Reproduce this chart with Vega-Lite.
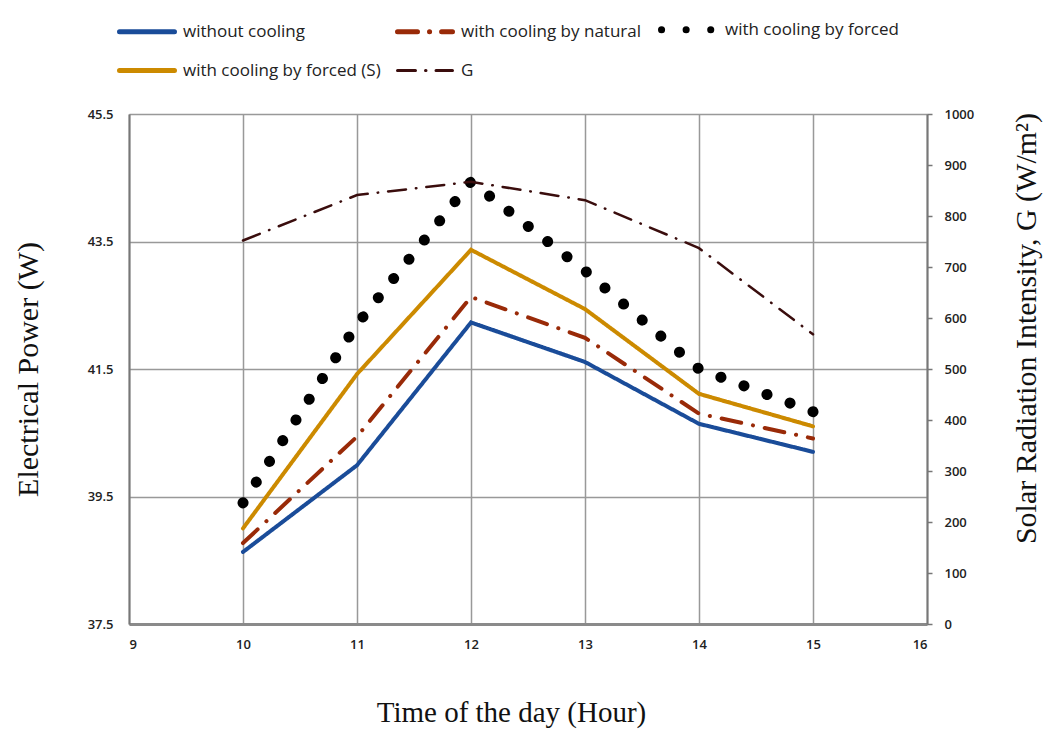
{
  "$schema": "https://vega.github.io/schema/vega-lite/v6.json",
  "width": 798,
  "height": 510,
  "autosize": {"type": "none"},
  "padding": {"left": 129, "top": 114, "right": 117, "bottom": 107},
  "background": "white",
  "config": {"view": {"stroke": null}, "font": "Open Sans"},
  "data": {
    "values": [
      {"hour": 10, "series": "without cooling", "value": 38.63},
      {"hour": 11, "series": "without cooling", "value": 39.99},
      {"hour": 12, "series": "without cooling", "value": 42.23},
      {"hour": 13, "series": "without cooling", "value": 41.61},
      {"hour": 14, "series": "without cooling", "value": 40.64},
      {"hour": 15, "series": "without cooling", "value": 40.20},
      {"hour": 10, "series": "with cooling  by natural", "value": 38.77},
      {"hour": 11, "series": "with cooling  by natural", "value": 40.44},
      {"hour": 12, "series": "with cooling  by natural", "value": 42.63},
      {"hour": 13, "series": "with cooling  by natural", "value": 41.99},
      {"hour": 14, "series": "with cooling  by natural", "value": 40.80},
      {"hour": 15, "series": "with cooling  by natural", "value": 40.41},
      {"hour": 10, "series": "with cooling  by forced", "value": 39.40},
      {"hour": 11, "series": "with cooling  by forced", "value": 42.20},
      {"hour": 12, "series": "with cooling  by forced", "value": 44.44},
      {"hour": 13, "series": "with cooling  by forced", "value": 43.04},
      {"hour": 14, "series": "with cooling  by forced", "value": 41.50},
      {"hour": 15, "series": "with cooling  by forced", "value": 40.83},
      {"hour": 10, "series": "with cooling  by forced (S)", "value": 39.00},
      {"hour": 11, "series": "with cooling  by forced (S)", "value": 41.42},
      {"hour": 12, "series": "with cooling  by forced (S)", "value": 43.37},
      {"hour": 13, "series": "with cooling  by forced (S)", "value": 42.44},
      {"hour": 14, "series": "with cooling  by forced (S)", "value": 41.11},
      {"hour": 15, "series": "with cooling  by forced (S)", "value": 40.60},
      {"hour": 10, "series": "G", "value": 752},
      {"hour": 11, "series": "G", "value": 841},
      {"hour": 12, "series": "G", "value": 867},
      {"hour": 13, "series": "G", "value": 831},
      {"hour": 14, "series": "G", "value": 737},
      {"hour": 15, "series": "G", "value": 568}
    ]
  },
  "encoding": {
    "x": {
      "field": "hour",
      "type": "quantitative",
      "scale": {"domain": [9, 16], "nice": false},
      "axis": {
        "values": [9, 10, 11, 12, 13, 14, 15, 16],
        "format": "d",
        "grid": true,
        "gridColor": "#999999",
        "gridWidth": 1.5,
        "domainColor": "#8a8a8a",
        "domainWidth": 3,
        "ticks": false,
        "labelPadding": 14,
        "labelFont": "Open Sans",
        "labelFontSize": 13,
        "labelFontWeight": 600,
        "labelColor": "#222222",
        "title": "Time of the day (Hour)",
        "titleFont": "Liberation Serif",
        "titleFontSize": 29,
        "titleFontWeight": "normal",
        "titleColor": "#111111",
        "titleX": 382,
        "titleY": 97,
        "titleBaseline": "alphabetic",
        "titleAlign": "center"
      }
    },
    "color": {
      "field": "series",
      "type": "nominal",
      "scale": {
        "domain": ["without cooling", "with cooling  by natural", "with cooling  by forced", "with cooling  by forced (S)", "G"],
        "range": ["#1a4c99", "#992a08", "#000000", "#cc8a00", "#3a0d0d"]
      },
      "legend": {
        "orient": "none",
        "legendX": 9.5,
        "legendY": -93,
        "direction": "horizontal",
        "columns": 3,
        "title": null,
        "symbolType": "stroke",
        "symbolSize": 3025,
        "symbolStrokeWidth": 5,
        "labelFont": "Open Sans",
        "labelFontSize": 17,
        "labelColor": "#222222",
        "labelOffset": 27.5,
        "columnPadding": 2,
        "rowPadding": 16,
        "labelLimit": 400,
        "encode": {
          "symbols": {
            "update": {
              "strokeCap": {"value": "round"},
              "strokeWidth": {"signal": "datum.value === 'with cooling  by forced' ? 7 : (datum.value === 'G' ? 3 : 5)"}
            }
          }
        }
      }
    },
    "strokeDash": {
      "field": "series",
      "type": "nominal",
      "scale": {
        "type": "ordinal",
        "domain": ["without cooling", "with cooling  by natural", "with cooling  by forced", "with cooling  by forced (S)", "G"],
        "range": [[1, 0], [20, 12, 0.1, 12], [0.1, 24.49], [1, 0], [18, 10, 0.5, 10]]
      }
    }
  },
  "layer": [
    {
      "encoding": {
        "y": {
          "field": "value",
          "type": "quantitative",
          "scale": {"domain": [37.5, 45.5], "nice": false, "zero": false},
          "axis": {
            "orient": "left",
            "values": [37.5, 39.5, 41.5, 43.5, 45.5],
            "format": ".1f",
            "grid": true,
            "gridColor": "#999999",
            "gridWidth": 1.5,
            "domainColor": "#777777",
            "domainWidth": 2,
            "ticks": false,
            "labelPadding": 16,
            "labelFont": "Open Sans",
            "labelFontSize": 13,
            "labelFontWeight": 600,
            "labelColor": "#222222",
            "title": "Electrical Power (W)",
            "titleFont": "Liberation Serif",
            "titleFontSize": 30,
            "titleFontWeight": "normal",
            "titleColor": "#111111",
            "titleAngle": -90,
            "titleX": -92,
            "titleY": 255,
            "titleBaseline": "alphabetic",
            "titleAlign": "center"
          }
        }
      },
      "layer": [
        {
          "transform": [{"filter": "datum.series !== 'G' && datum.series !== 'with cooling  by forced'"}],
          "mark": {"type": "line", "strokeCap": "round", "strokeWidth": 4}
        },
        {
          "transform": [{"filter": "datum.series === 'with cooling  by forced'"}],
          "mark": {"type": "line", "strokeCap": "round", "strokeWidth": 11}
        }
      ]
    },
    {
      "transform": [{"filter": "datum.series === 'G'"}],
      "mark": {"type": "line", "strokeCap": "round", "strokeWidth": 2.5},
      "encoding": {
        "y": {
          "field": "value",
          "type": "quantitative",
          "scale": {"domain": [0, 1000], "nice": false},
          "axis": {
            "orient": "right",
            "values": [0, 100, 200, 300, 400, 500, 600, 700, 800, 900, 1000],
            "format": "d",
            "grid": false,
            "domainColor": "#777777",
            "domainWidth": 2,
            "ticks": true,
            "tickSize": 5,
            "tickColor": "#777777",
            "tickWidth": 1.5,
            "labelPadding": 12,
            "labelFont": "Open Sans",
            "labelFontSize": 13,
            "labelFontWeight": 600,
            "labelColor": "#222222",
            "title": "Solar Radiation Intensity, G (W/m²)",
            "titleFont": "Liberation Serif",
            "titleFontSize": 30,
            "titleFontWeight": "normal",
            "titleColor": "#111111",
            "titleAngle": -90,
            "titleX": 108,
            "titleY": 214,
            "titleBaseline": "alphabetic",
            "titleAlign": "center"
          }
        }
      }
    }
  ],
  "resolve": {"scale": {"y": "independent"}}
}
